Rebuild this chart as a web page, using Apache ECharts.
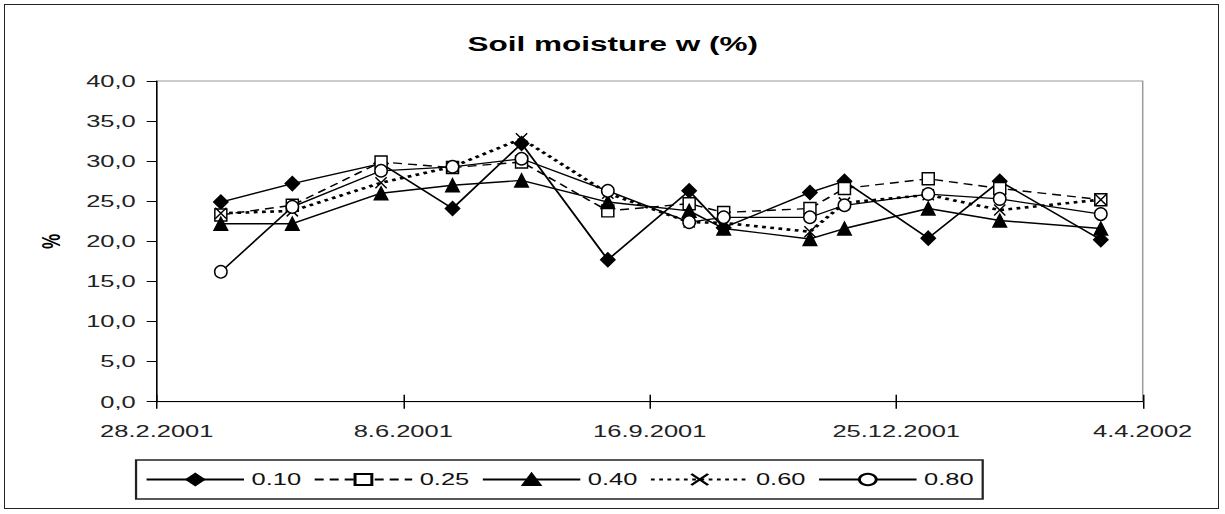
<!DOCTYPE html>
<html>
<head>
<meta charset="utf-8">
<script src="https://cdn.jsdelivr.net/npm/echarts@6/dist/echarts.min.js"></script>
<style>
  html, body { margin: 0; padding: 0; background: #fff; overflow: hidden; }
  #frame { position: absolute; left: 4px; top: 4px; width: 1213px; height: 503px; border: 1.5px solid #222; }
  /* the source picture has horizontally stretched lettering, so the chart is drawn narrow and widened */
  #chart { position: absolute; left: 0; top: 0; width: 817px; height: 514px; transform: scaleX(1.5); transform-origin: 0 0; }
</style>
</head>
<body>
<div id="frame"></div>
<div id="chart"></div>
<script>
const startDate = '2001-02-28';
const sampleDates = ['2001-03-26', '2001-04-24', '2001-05-30', '2001-06-28', '2001-07-26', '2001-08-30',
  '2001-10-02', '2001-10-16', '2001-11-20', '2001-12-04', '2002-01-07', '2002-02-05', '2002-03-18'];

const depth010 = [24.9, 27.2, 29.7, 24.1, 32.2, 17.7, 26.3, 21.7, 26.1, 27.5, 20.4, 27.5, 20.2];
const depth025 = [23.3, 24.5, 29.9, 29.2, 29.9, 23.8, 24.7, 23.6, 24.1, 26.6, 27.8, 26.6, 25.2];
const depth040 = [22.2, 22.2, 26.0, 27.0, 27.6, 24.9, 23.8, 21.6, 20.3, 21.6, 24.1, 22.6, 21.6];
const depth060 = [23.5, 23.8, 27.3, 29.3, 32.8, 26.0, 22.4, 22.3, 21.2, 24.8, 25.8, 23.9, 25.2];
const depth080 = [16.2, 24.3, 28.8, 29.3, 30.3, 26.3, 22.4, 23.0, 23.0, 24.5, 25.9, 25.3, 23.4];

const seriesNames = ['0.10', '0.25', '0.40', '0.60', '0.80'];
const yTicks = [0, 5, 10, 15, 20, 25, 30, 35, 40];
const xSpanDays = 400;
const xStepDays = 100;

const DAY = 24 * 3600 * 1000;
const toMs = (s) => {
  const [y, m, d] = s.split('-').map(Number);
  return Date.UTC(y, m - 1, d);
};
const dayOffset = (s) => Math.round((toMs(s) - toMs(startDate)) / DAY);
const dateLabel = (v) => {
  const d = new Date(toMs(startDate) + v * DAY);
  return d.getUTCDate() + '.' + (d.getUTCMonth() + 1) + '.' + d.getUTCFullYear();
};
const pairs = (values) => sampleDates.map((s, i) => [dayOffset(s), values[i]]);

const font = 'Liberation Sans, Arial, sans-serif';
const black = '#000';

const crossPath = 'path://M0,0L10,10M10,0L0,10';

const makeSeries = (name, values, symbol, size, fill, line) => ({
  name,
  type: 'line',
  data: pairs(values),
  symbol,
  symbolSize: size,
  showSymbol: true,
  lineStyle: Object.assign({ color: black, width: 1.4 }, line),
  itemStyle: { color: fill, borderColor: black, borderWidth: 1.2 },
  emphasis: { disabled: true },
});

const chart = echarts.init(document.getElementById('chart'), null, { renderer: 'svg' });

chart.setOption({
  animation: false,
  backgroundColor: 'transparent',
  textStyle: { fontFamily: font },
  title: {
    text: 'Soil moisture w (%)',
    left: 'center',
    top: 33,
    padding: 0,
    textStyle: { fontFamily: font, fontSize: 21, fontWeight: 'bold', color: black },
  },
  grid: {
    left: 104.5,
    right: 55.2,
    top: 81,
    bottom: 112.3,
    show: true,
    borderColor: '#9a9a9a',
    borderWidth: 1,
  },
  legend: {
    data: seriesNames,
    left: 90.7,
    top: 460,
    padding: [11, 6],
    itemWidth: 65,
    itemHeight: 14,
    itemGap: 8,
    borderColor: '#222',
    borderWidth: 1.5,
    textStyle: { fontFamily: font, fontSize: 17, color: '#111' },
  },
  xAxis: [
    {
      type: 'value',
      min: 0,
      max: xSpanDays,
      interval: xStepDays,
      axisLine: { lineStyle: { color: black, width: 1 } },
      axisTick: { show: true, length: 7, lineStyle: { color: black } },
      axisLabel: { margin: 21, fontSize: 17, color: '#222', fontFamily: font, formatter: dateLabel },
      splitLine: { show: false },
    },
    {
      type: 'value',
      position: 'bottom',
      min: 0,
      max: xSpanDays,
      interval: xStepDays,
      axisLine: { show: false },
      axisTick: { show: true, inside: true, length: 7, lineStyle: { color: black } },
      axisLabel: { show: false },
      splitLine: { show: false },
    },
  ],
  yAxis: {
    type: 'value',
    min: yTicks[0],
    max: yTicks[yTicks.length - 1],
    interval: yTicks[1] - yTicks[0],
    name: '%',
    nameLocation: 'middle',
    nameRotate: 90,
    nameGap: 62,
    nameTextStyle: { fontFamily: font, fontSize: 17, fontWeight: 'bold', color: black },
    axisLine: { show: true, lineStyle: { color: black, width: 1 } },
    axisTick: { show: true, length: 6.7, lineStyle: { color: black } },
    axisLabel: {
      margin: 14,
      fontSize: 17,
      color: '#222',
      fontFamily: font,
      formatter: (v) => v.toFixed(1).replace('.', ','),
    },
    splitLine: { show: false },
  },
  series: [
    makeSeries(seriesNames[0], depth010, 'diamond', [9.5, 14], black, {}),
    makeSeries(seriesNames[1], depth025, 'rect', [8, 12], '#fff', { type: [6, 4] }),
    makeSeries(seriesNames[2], depth040, 'triangle', [9, 13], black, {}),
    makeSeries(seriesNames[3], depth060, crossPath, [7.5, 11], black, { type: [2.5, 3], width: 2.6 }),
    makeSeries(seriesNames[4], depth080, 'circle', [8.3, 12.5], '#fff', { width: 1.3 }),
  ],
});
</script>
</body>
</html>
